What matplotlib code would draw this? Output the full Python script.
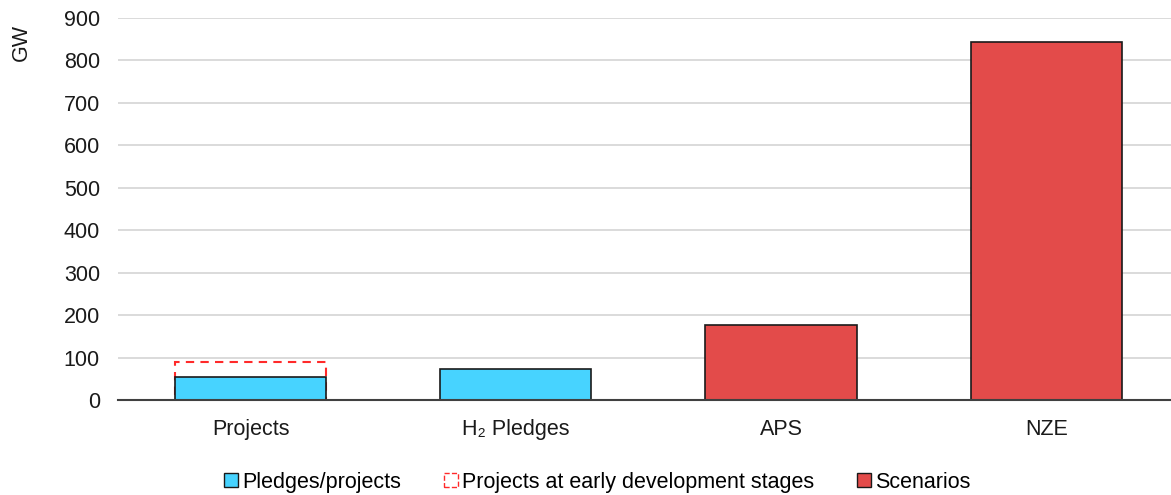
import numpy as np
from matplotlib import pyplot as plt
from matplotlib.patches import Patch

plt.rcParams['font.family'] = ['Liberation Sans', 'DejaVu Sans']

# Data
categories = ['Projects', 'H\u2082 Pledges', 'APS', 'NZE']
pledges_projects = [54, 73, 0, 0]
early_stage_total = [90, 0, 0, 0]
scenarios = [0, 0, 177, 844]

cyan = '#47D3FF'
red = '#E34B4A'
fs = 15.5

fig = plt.figure(figsize=(11.71, 4.95), dpi=100)
ax = fig.add_axes([0.1008, 0.192, 0.899, 0.7716])

x = np.arange(len(categories))
w = 0.57

# dashed outline for early-stage projects, drawn beneath the solid bar
ax.bar(x[:1], early_stage_total[:1], width=w, facecolor='none', edgecolor='#FF2A2A',
       linestyle=(0, (4, 3)), linewidth=1.5, zorder=2)
ax.bar(x[:2], pledges_projects[:2], width=w, color=cyan, edgecolor='#1a1a1a',
       linewidth=1.2, zorder=3)
ax.bar(x[2:], scenarios[2:], width=w, color=red, edgecolor='#1a1a1a',
       linewidth=1.2, zorder=3)

ax.set_xlim(-0.5, 3.47)
ax.set_ylim(0, 900)
ax.set_yticks(range(0, 901, 100))
ax.set_xticks(x)
ax.set_xticklabels(categories)
ax.yaxis.grid(True, color='#d4d4d4', linewidth=1.2)
ax.set_axisbelow(True)
for s in ['top', 'right', 'left']:
    ax.spines[s].set_visible(False)
ax.spines['bottom'].set_color('#404040')
ax.spines['bottom'].set_linewidth(1.5)
ax.spines['bottom'].set_zorder(4)
ax.tick_params(axis='both', length=0, labelsize=fs, colors='#1a1a1a')
ax.tick_params(axis='y', pad=13)
ax.tick_params(axis='x', pad=14)

fig.text(0.018, 0.915, 'GW', rotation=90, fontsize=fs, color='#1a1a1a',
         ha='center', va='center')

handles = [
    Patch(facecolor=cyan, edgecolor='#1a1a1a', label='Pledges/projects'),
    Patch(facecolor='none', edgecolor='#FF2A2A', linestyle='--', label='Projects at early development stages'),
    Patch(facecolor=red, edgecolor='#1a1a1a', label='Scenarios'),
]
fig.legend(handles=handles, loc='center', bbox_to_anchor=(0.51, 0.026), ncol=3,
           frameon=False, fontsize=fs, handlelength=0.65, handleheight=0.65,
           handletextpad=0.2, columnspacing=2.0)

fig.savefig('out.png', dpi=100)
